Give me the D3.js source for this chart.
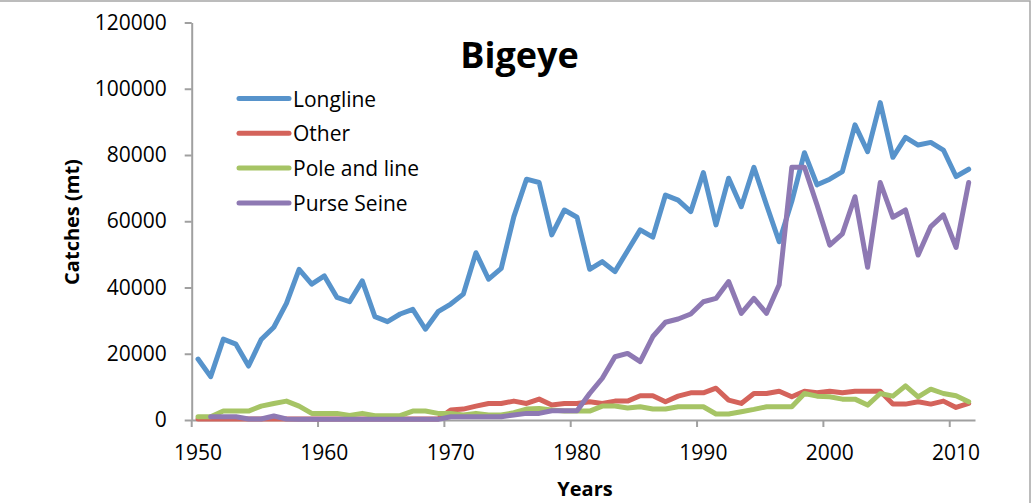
<!DOCTYPE html>
<html>
<head>
<meta charset="utf-8">
<script src="https://cdn.jsdelivr.net/npm/d3@7"></script>
<style>
  body { margin: 0; background: #fff; }
  svg { display: block; }
  text { font-family: "Open Sans", sans-serif; fill: #000; }
</style>
</head>
<body>
<script>
// Bigeye catches (mt) by gear, 1950-2011
const years = d3.range(1950, 2012);

const longline = [
  18400, 13100, 24400, 22900, 16300, 24300, 28000, 35200, 45500, 41000,
  43500, 37000, 35700, 42000, 31200, 29700, 32000, 33400, 27400, 32700,
  35000, 38000, 50500, 42500, 45800, 61400, 72700, 71700, 55900, 63400,
  61200, 45500, 47800, 44800, 51100, 57400, 55200, 67900, 66400, 62900,
  74700, 58900, 73000, 64400, 76300, 64900, 53800, 66000, 80700, 71000,
  72700, 75000, 89100, 81000, 95800, 79300, 85300, 83000, 83800, 81500,
  73500, 75700
];

const other = [
  300, 300, 300, 300, 300, 300, 300, 300, 300, 300,
  300, 300, 300, 300, 300, 300, 300, 300, 300, 300,
  3000, 3300, 4200, 5000, 5000, 5700, 5000, 6300, 4500, 5000,
  5000, 5500, 5000, 5700, 5700, 7300, 7300, 5500, 7200, 8200,
  8200, 9600, 6000, 5000, 8000, 8000, 8700, 7000, 8700, 8200,
  8700, 8200, 8700, 8700, 8700, 4800, 4800, 5500, 4800, 5700,
  3800, 5000
];

const poleAndLine = [
  1000, 1000, 2700, 2700, 2700, 4200, 5000, 5700, 4200, 2000,
  2000, 2000, 1400, 2000, 1300, 1300, 1300, 2700, 2700, 2000,
  2000, 1500, 2000, 1500, 1500, 2200, 3300, 3500, 3000, 2700,
  2700, 2700, 4200, 4200, 3600, 4000, 3300, 3300, 4000, 4000,
  4000, 1800, 1800, 2500, 3200, 4000, 4000, 4000, 8000, 7200,
  7000, 6300, 6300, 4500, 8000, 7200, 10300, 7000, 9300, 8000,
  7300, 5500
];

const purseSeine = [
  null, 1000, 1000, 1000, 300, 300, 1200, 300, 200, 200,
  200, 200, 200, 200, 200, 200, 200, 200, 200, 200,
  1000, 1000, 1000, 1000, 1000, 1500, 2000, 2000, 2800, 2800,
  2800, 8000, 12600, 19100, 20100, 17600, 25200, 29500, 30500, 32000,
  35700, 36700, 41800, 32200, 36700, 32200, 40800, 76300, 76300, 64900,
  52800, 56200, 67400, 46100, 71700, 61200, 63400, 49800, 58400, 61900,
  52100, 71700
];

const seriesNames = ['Longline', 'Other', 'Pole and line', 'Purse Seine'];
const seriesValues = [longline, other, poleAndLine, purseSeine];
const colors = ['#5793cb', '#d4635b', '#a6c465', '#8e79b3'];

const yTicks = [0, 20000, 40000, 60000, 80000, 100000, 120000];
const xLabels = [1950, 1960, 1970, 1980, 1990, 2000, 2010];

const width = 1035;
const height = 503;
const axisColor = '#a0a0a0';

const svg = d3.select('body')
  .append('svg')
  .attr('width', width)
  .attr('height', height);

// outer frame of the chart area (top and right edges visible)
svg.append('rect')
  .attr('x', -10)
  .attr('y', 1)
  .attr('width', 1040)
  .attr('height', 520)
  .attr('fill', 'none')
  .attr('stroke', '#a6a6a6')
  .attr('stroke-width', 1.5);

const plot = { left: 191.7, right: 975, top: 22.5, bottom: 420 };

// category axis: one band per year
const x = d3.scaleBand()
  .domain(years)
  .range([plot.left, plot.right])
  .paddingInner(0)
  .paddingOuter(0);

const y = d3.scaleLinear()
  .domain([0, 120000])
  .range([plot.bottom, plot.top]);

// y axis
const yAxis = svg.append('g')
  .attr('transform', `translate(${plot.left},0)`)
  .call(d3.axisLeft(y).tickValues(yTicks).tickFormat(d3.format('d'))
    .tickSize(7).tickPadding(18).tickSizeOuter(0));
yAxis.select('.domain').attr('stroke', axisColor).attr('stroke-width', 2);
yAxis.selectAll('.tick line').attr('stroke', axisColor).attr('stroke-width', 2);
yAxis.selectAll('.tick text')
  .style('font-size', '21px')
  .attr('fill', '#000');

// x axis: labels at category centres, tick marks on category boundaries
const xAxis = svg.append('g')
  .attr('transform', `translate(0,${plot.bottom})`)
  .call(d3.axisBottom(x).tickValues(xLabels).tickSize(0).tickPadding(25).tickSizeOuter(0));
xAxis.select('.domain').attr('stroke', axisColor).attr('stroke-width', 2);
xAxis.selectAll('.tick text')
  .style('font-size', '21px')
  .attr('fill', '#000');

xAxis.selectAll('line.boundary')
  .data(xLabels)
  .enter()
  .append('line')
  .attr('class', 'boundary')
  .attr('x1', (d) => x(d))
  .attr('x2', (d) => x(d))
  .attr('y1', 0)
  .attr('y2', 7)
  .attr('stroke', axisColor)
  .attr('stroke-width', 2);

// series lines
const line = d3.line()
  .defined((d) => d.v !== null)
  .x((d) => x(d.year) + x.bandwidth() / 2)
  .y((d) => y(d.v));

seriesValues.forEach((vals, i) => {
  const pts = years.map((yr, j) => ({ year: yr, v: vals[j] }));
  svg.append('path')
    .datum(pts)
    .attr('d', line)
    .attr('fill', 'none')
    .attr('stroke', colors[i])
    .attr('stroke-width', 5)
    .attr('stroke-linejoin', 'round')
    .attr('stroke-linecap', 'round');
});

// title
svg.append('text')
  .attr('x', 519.5)
  .attr('y', 68)
  .attr('text-anchor', 'middle')
  .style('font-size', '36px')
  .style('font-weight', 'bold')
  .text('Bigeye');

// axis titles
svg.append('text')
  .attr('x', 585)
  .attr('y', 496)
  .attr('text-anchor', 'middle')
  .style('font-size', '20px')
  .style('font-weight', 'bold')
  .text('Years');

svg.append('text')
  .attr('transform', 'translate(79,222) rotate(-90)')
  .attr('text-anchor', 'middle')
  .style('font-size', '20px')
  .style('font-weight', 'bold')
  .text('Catches (mt)');

// legend
const legend = svg.append('g').attr('transform', 'translate(239,98.5)');
seriesNames.forEach((name, i) => {
  const row = legend.append('g').attr('transform', `translate(0,${i * 34.8})`);
  row.append('line')
    .attr('x1', 0)
    .attr('x2', 50)
    .attr('stroke', colors[i])
    .attr('stroke-width', 5)
    .attr('stroke-linecap', 'round');
  row.append('text')
    .attr('x', 54)
    .attr('y', 8)
    .style('font-size', '21px')
    .text(name);
});
</script>
</body>
</html>
